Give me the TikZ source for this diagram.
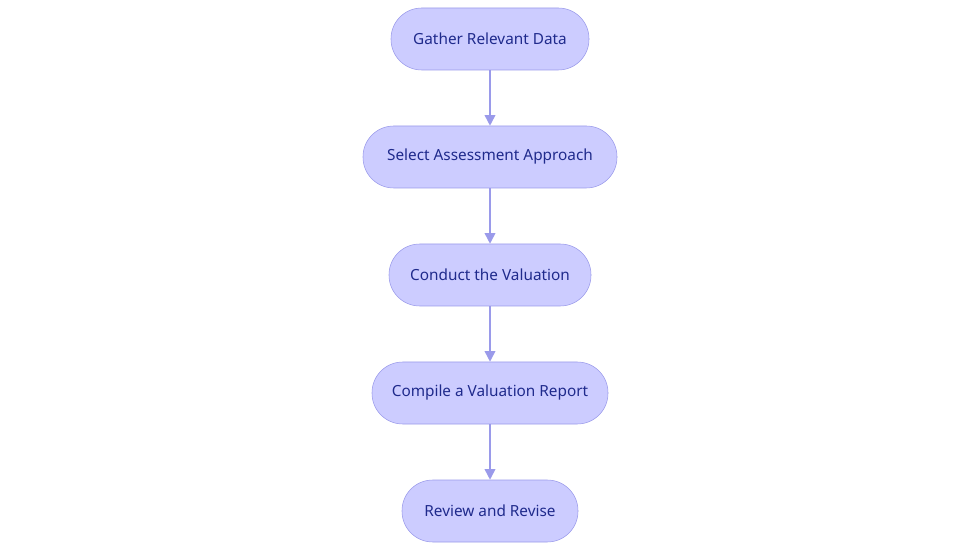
\documentclass[tikz,border=0pt]{standalone}
\usepackage{fontspec}
\setmainfont{Noto Sans}
\usetikzlibrary{positioning,arrows.meta}
\definecolor{boxfill}{HTML}{CCCCFF}
\definecolor{boxline}{HTML}{9A9AEA}
\definecolor{boxtext}{HTML}{1F2A8C}
\begin{document}
\begin{tikzpicture}[x=0.75pt, y=0.75pt,
    stage/.style={draw=boxline, fill=boxfill, text=boxtext, rounded corners=23pt,
      minimum height=46.5pt, font=\fontsize{11.5}{13}\selectfont, inner xsep=0pt},
    flow/.style={draw=boxline, line width=1.2pt, -{Triangle[length=8pt,width=8pt]}}]

    \useasboundingbox (0,0) rectangle (980,553);

    % Stages
    \node[stage, minimum width=148.5pt] (gather)  at (490,514) {Gather Relevant Data};
    \node[stage, minimum width=190.5pt] (select)  at (490,396) {Select Assessment Approach};
    \node[stage, minimum width=151.5pt] (conduct) at (490,278) {Conduct the Valuation};
    \node[stage, minimum width=177pt]   (compile) at (490,160) {Compile a Valuation Report};
    \node[stage, minimum width=132pt]   (review)  at (490,42)  {Review and Revise};

    % Arrows
    \draw[flow] (gather) -- (select);
    \draw[flow] (select) -- (conduct);
    \draw[flow] (conduct) -- (compile);
    \draw[flow] (compile) -- (review);

\end{tikzpicture}
\end{document}
